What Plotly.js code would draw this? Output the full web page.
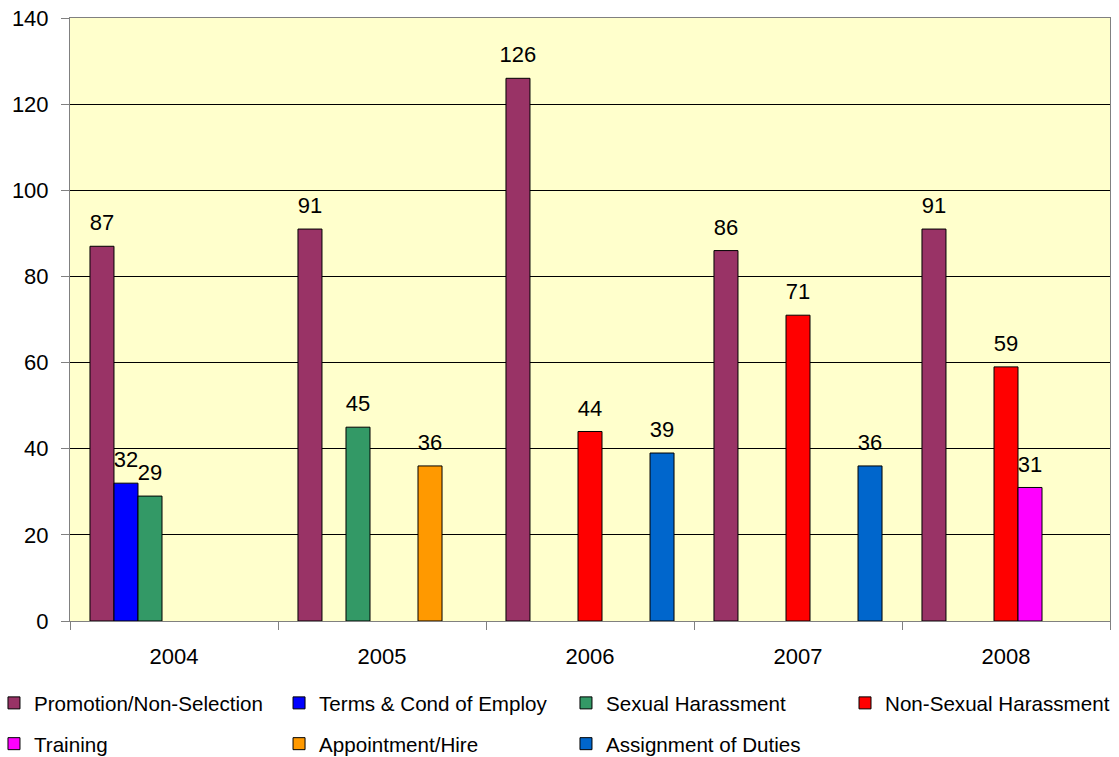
<!DOCTYPE html>
<html>
<head>
<meta charset="utf-8">
<script src="https://cdn.plot.ly/plotly-3.0.1.min.js"></script>
<style>html,body{margin:0;padding:0;background:#fff;}#chart{width:1119px;height:757px;}</style>
</head>
<body>
<div id="chart"></div>
<script>
const years = ["2004", "2005", "2006", "2007", "2008"];
const seriesNames = ["Promotion/Non-Selection", "Terms & Cond of Employ", "Sexual Harassment", "Non-Sexual Harassment", "Training", "Appointment/Hire", "Assignment of Duties"];
const promotion   = [87, 91, 126, 86, 91];
const terms       = [32, null, null, null, null];
const sexual      = [29, 45, null, null, null];
const nonSexual   = [null, null, 44, 71, 59];
const training    = [null, null, null, null, 31];
const appointment = [null, 36, null, null, null];
const assignment  = [null, null, 39, 36, null];
const colors = ["#993366", "#0000FF", "#339966", "#FF0000", "#FF00FF", "#FF9900", "#0066CC"];

const allValues = [promotion, terms, sexual, nonSexual, training, appointment, assignment];
const FONT = "Liberation Sans, Arial, sans-serif";
// legend column of each series (4 columns, row-major order)
const legendIds = ["legend", "legend2", "legend3", "legend4", "legend", "legend2", "legend3"];

const barTraces = allValues.map((vals, i) => ({
  type: "bar",
  name: seriesNames[i],
  x: years,
  y: vals,
  marker: {color: colors[i], line: {color: "#000", width: 1}},
  legend: legendIds[i],
  legendgroup: "g" + i,
  hoverinfo: "x+y+name"
}));

// value labels, grouped the same way as the bars
const labelTraces = allValues.map((vals, i) => ({
  type: "scatter",
  mode: "markers+text",
  x: years,
  y: vals,
  text: vals.map(v => v === null ? "" : String(v)),
  textposition: "top center",
  textfont: {family: FONT, size: 22, color: "#000"},
  marker: {size: 15, color: "rgba(0,0,0,0)", line: {width: 0}},
  cliponaxis: false,
  showlegend: false,
  hoverinfo: "skip"
}));

const legendCommon = {
  orientation: "v",
  xanchor: "left",
  yanchor: "top",
  y: -0.1028,
  font: {family: FONT, size: 20.6, color: "#000"},
  itemwidth: 30,
  tracegroupgap: 11,
  bgcolor: "rgba(0,0,0,0)",
  traceorder: "grouped"
};

const layout = {
  width: 1119,
  height: 757,
  margin: {l: 70, r: 9, t: 18, b: 136, autoexpand: false},
  paper_bgcolor: "#FFFFFF",
  plot_bgcolor: "#FFFFCC",
  barmode: "group",
  bargap: 0.192,
  bargroupgap: 0,
  scattermode: "group",
  scattergap: 0.192,
  font: {family: FONT, size: 22, color: "#000"},
  xaxis: {
    type: "category",
    tickson: "boundaries",
    ticks: "outside",
    ticklen: 8,
    tickcolor: "#808080",
    showline: true,
    linecolor: "#808080",
    linewidth: 1,
    mirror: true,
    showgrid: false,
    ticklabelstandoff: 16,
    tickfont: {family: FONT, size: 22, color: "#000"}
  },
  yaxis: {
    range: [0, 140],
    dtick: 20,
    ticks: "outside",
    ticklen: 8,
    tickcolor: "#808080",
    showline: true,
    linecolor: "#808080",
    linewidth: 1,
    mirror: true,
    showgrid: true,
    gridcolor: "#000000",
    gridwidth: 1,
    zeroline: false,
    ticklabelstandoff: 8,
    tickfont: {family: FONT, size: 22, color: "#000"}
  },
  legend:  Object.assign({}, legendCommon, {x: -0.0731}),
  legend2: Object.assign({}, legendCommon, {x: 0.2010}),
  legend3: Object.assign({}, legendCommon, {x: 0.4769}),
  legend4: Object.assign({}, legendCommon, {x: 0.7452}),
  showlegend: true
};

Plotly.newPlot("chart", barTraces.concat(labelTraces), layout, {displayModeBar: false, staticPlot: true});
</script>
</body>
</html>
